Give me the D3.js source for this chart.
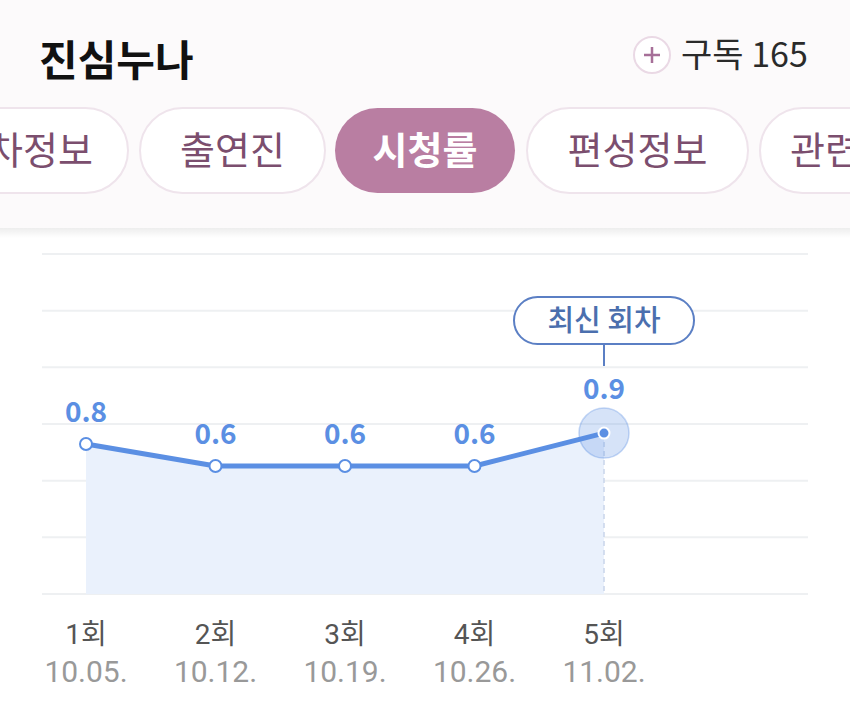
<!DOCTYPE html>
<html>
<head>
<meta charset="utf-8">
<script src="https://cdn.jsdelivr.net/npm/d3@7"></script>
<style>
  body { margin: 0; background: #fff; }
  svg { display: block; font-family: "Noto Sans CJK KR", "Noto Sans", sans-serif; }
</style>
</head>
<body>
<svg id="chart" width="850" height="720"></svg>
<script>
// show + tabs
const title = '진심누나';
const subscribeText = '구독 165';
const tabs = ['회차정보', '출연진', '시청률', '편성정보', '관련영상'];
const activeTab = '시청률';

// ratings per episode
const episodes = ['1회', '2회', '3회', '4회', '5회'];
const airDates = ['10.05.', '10.12.', '10.19.', '10.26.', '11.02.'];
const ratings = [0.8, 0.6, 0.6, 0.6, 0.9];
const latestLabel = '최신 회차';

const svg = d3.select('#chart');
const blue = '#5b8fe3';

// ---- header ----
const defs = svg.append('defs');
const shade = defs.append('linearGradient')
    .attr('id', 'shade').attr('x1', 0).attr('x2', 0).attr('y1', 0).attr('y2', 1);
shade.append('stop').attr('offset', 0).attr('stop-color', '#000').attr('stop-opacity', 0.07);
shade.append('stop').attr('offset', 1).attr('stop-color', '#000').attr('stop-opacity', 0);

svg.append('rect').attr('x', 0).attr('y', 0).attr('width', 850).attr('height', 228).attr('fill', '#fcfafb');
svg.append('rect').attr('x', 0).attr('y', 228).attr('width', 850).attr('height', 10).attr('fill', 'url(#shade)');

svg.append('text')
    .attr('x', 39).attr('y', 76)
    .attr('font-size', 42).attr('font-weight', 700).attr('fill', '#111')
    .text(title);

const sub = svg.append('g').attr('transform', 'translate(652,55)');
sub.append('circle').attr('r', 18).attr('fill', '#fff').attr('stroke', '#ead9e5').attr('stroke-width', 2);
sub.append('path').attr('d', 'M-8,0H8M0,-8V8').attr('stroke', '#a66f98').attr('stroke-width', 2.5);
svg.append('text')
    .attr('x', 681).attr('y', 67)
    .attr('font-size', 34).attr('fill', '#2a2a2a')
    .text(subscribeText);

// tab pills (scrolled strip, first one cut off on the left)
const tabX = [-82, 140, 335, 527, 760];
const tabW = [210, 185, 180, 221, 200];
const tabG = svg.append('g').selectAll('g').data(tabs).join('g')
    .attr('transform', (d, i) => `translate(${tabX[i]},108)`);
tabG.append('rect')
    .attr('width', (d, i) => tabW[i]).attr('height', 85).attr('rx', 42.5)
    .attr('fill', d => d === activeTab ? '#b97ea2' : '#fff')
    .attr('stroke', d => d === activeTab ? 'none' : '#efe4ec')
    .attr('stroke-width', 2);
tabG.append('text')
    .attr('x', (d, i) => tabW[i] / 2).attr('y', 56)
    .attr('text-anchor', 'middle')
    .attr('font-size', 38)
    .attr('font-weight', d => d === activeTab ? 700 : 400)
    .attr('fill', d => d === activeTab ? '#fff' : '#7b4e6e')
    .text(d => d);

// ---- chart ----
const plot = { left: 42, right: 808, top: 254, bottom: 594 };

const x = d3.scalePoint()
    .domain(episodes)
    .range([86, 604]);

const y = d3.scaleLinear()
    .domain([-0.565, 2.53])
    .range([plot.bottom, plot.top]);

// horizontal guide lines, 6 equal bands
const bands = d3.scaleLinear().domain([0, 6]).range([plot.bottom, plot.top]);
svg.append('g').selectAll('line').data(d3.range(7)).join('line')
    .attr('x1', plot.left).attr('x2', plot.right)
    .attr('y1', d => bands(d)).attr('y2', d => bands(d))
    .attr('stroke', '#eef0f2').attr('stroke-width', 2);

const pts = episodes.map((e, i) => ({ ep: e, date: airDates[i], v: ratings[i] }));

svg.append('path')
    .datum(pts)
    .attr('fill', '#eaf1fc')
    .attr('d', d3.area().x(d => x(d.ep)).y0(plot.bottom).y1(d => y(d.v)));

const last = pts[pts.length - 1];
svg.append('line')
    .attr('x1', x(last.ep)).attr('x2', x(last.ep))
    .attr('y1', y(last.v)).attr('y2', plot.bottom)
    .attr('stroke', '#c9d5ea').attr('stroke-width', 1.5).attr('stroke-dasharray', '5,4');

svg.append('path')
    .datum(pts)
    .attr('fill', 'none').attr('stroke', blue).attr('stroke-width', 5)
    .attr('stroke-linejoin', 'round')
    .attr('d', d3.line().x(d => x(d.ep)).y(d => y(d.v)));

// halo on latest episode
svg.append('circle')
    .attr('cx', x(last.ep)).attr('cy', y(last.v)).attr('r', 25)
    .attr('fill', 'rgba(91,143,227,0.25)').attr('stroke', 'rgba(91,143,227,0.35)').attr('stroke-width', 1.5);

svg.append('g').selectAll('circle').data(pts).join('circle')
    .attr('cx', d => x(d.ep)).attr('cy', d => y(d.v))
    .attr('r', (d, i) => i === pts.length - 1 ? 5.5 : 6)
    .attr('fill', (d, i) => i === pts.length - 1 ? blue : '#fff')
    .attr('stroke', (d, i) => i === pts.length - 1 ? '#fff' : blue)
    .attr('stroke-width', 2);

svg.append('g').selectAll('text').data(pts).join('text')
    .attr('x', d => x(d.ep))
    .attr('y', (d, i) => y(d.v) - (i === pts.length - 1 ? 34 : 22))
    .attr('text-anchor', 'middle')
    .attr('font-size', 28).attr('font-weight', 700).attr('fill', blue)
    .text(d => d.v.toFixed(1));

// "latest" callout
const cx = x(last.ep);
svg.append('line')
    .attr('x1', cx).attr('x2', cx).attr('y1', 344).attr('y2', 366)
    .attr('stroke', '#5b7fc4').attr('stroke-width', 2);
svg.append('rect')
    .attr('x', cx - 90).attr('y', 297).attr('width', 180).attr('height', 47).attr('rx', 23.5)
    .attr('fill', '#fff').attr('stroke', '#5b7fc4').attr('stroke-width', 2);
svg.append('text')
    .attr('x', cx).attr('y', 331)
    .attr('text-anchor', 'middle')
    .attr('font-size', 29).attr('font-weight', 500).attr('fill', '#4b6fae')
    .text(latestLabel);

// x axis labels
const xl = svg.append('g').selectAll('g').data(pts).join('g')
    .attr('transform', d => `translate(${x(d.ep)},0)`);
xl.append('text')
    .attr('y', 644).attr('text-anchor', 'middle')
    .attr('font-family', 'Roboto, "Noto Sans CJK KR", sans-serif')
    .attr('font-size', 28).attr('fill', '#555')
    .text(d => d.ep);
xl.append('text')
    .attr('y', 682).attr('text-anchor', 'middle')
    .attr('font-family', 'Roboto, "Noto Sans CJK KR", sans-serif')
    .attr('font-size', 30).attr('fill', '#999')
    .text(d => d.date);
</script>
</body>
</html>
